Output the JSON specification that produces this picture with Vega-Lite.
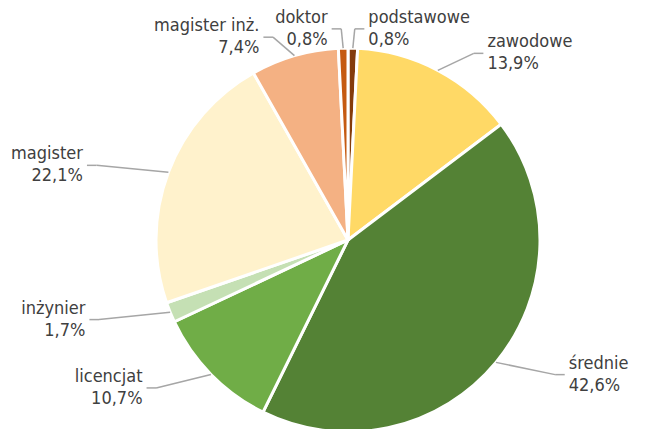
{
  "$schema": "https://vega.github.io/schema/vega-lite/v6.json",
  "width": 384,
  "height": 384,
  "autosize": {"type": "none"},
  "padding": {"left": 156, "top": 48, "right": 125, "bottom": 0},
  "background": "white",
  "config": {"view": {"stroke": null}},
  "data": {
    "values": [
      {"k": "podstawowe", "v": 0.8},
      {"k": "zawodowe", "v": 13.9},
      {"k": "średnie", "v": 42.6},
      {"k": "licencjat", "v": 10.7},
      {"k": "inżynier", "v": 1.7},
      {"k": "magister", "v": 22.1},
      {"k": "magister inż.", "v": 7.4},
      {"k": "doktor", "v": 0.8}
    ]
  },
  "transform": [
    {"window": [{"op": "row_number", "as": "i"}, {"op": "sum", "field": "v", "as": "cum"}], "frame": [null, 0]},
    {"joinaggregate": [{"op": "sum", "field": "v", "as": "tot"}]},
    {"calculate": "2*PI*(datum.cum - datum.v/2)/datum.tot", "as": "mid"},
    {"calculate": "sin(datum.mid) >= 0 ? 1 : -1", "as": "side"},
    {"calculate": "sin(datum.mid)", "as": "x0"},
    {"calculate": "cos(datum.mid)", "as": "y0"},
    {"calculate": "1.4*sin(datum.mid)", "as": "x1"},
    {"calculate": "1.1*cos(datum.mid)", "as": "y1"},
    {"calculate": "datum.x1 + datum.side*0.05", "as": "x2"},
    {"calculate": "[datum.k, replace(format(datum.v, '.1f'), '.', ',') + '%']", "as": "lab"}
  ],
  "layer": [
    {
      "mark": {"type": "arc", "stroke": "white", "strokeWidth": 3},
      "encoding": {
        "theta": {"field": "v", "type": "quantitative", "stack": true},
        "order": {"field": "i", "type": "quantitative"},
        "color": {
          "field": "k",
          "type": "nominal",
          "legend": null,
          "scale": {
            "domain": ["podstawowe", "zawodowe", "średnie", "licencjat", "inżynier", "magister", "magister inż.", "doktor"],
            "range": ["#843C0C", "#FFD966", "#548235", "#70AD47", "#C5E0B4", "#FFF2CC", "#F4B183", "#C55A11"]
          }
        }
      }
    },
    {
      "mark": {"type": "rule", "color": "#A6A6A6", "strokeWidth": 1.5},
      "encoding": {
        "x": {"field": "x0", "type": "quantitative", "axis": null, "scale": {"domain": [-1, 1], "nice": false, "zero": false}},
        "y": {"field": "y0", "type": "quantitative", "axis": null, "scale": {"domain": [-1, 1], "nice": false, "zero": false}},
        "x2": {"field": "x1"},
        "y2": {"field": "y1"}
      }
    },
    {
      "mark": {"type": "rule", "color": "#A6A6A6", "strokeWidth": 1.5},
      "encoding": {
        "x": {"field": "x1", "type": "quantitative"},
        "y": {"field": "y1", "type": "quantitative"},
        "x2": {"field": "x2"}
      }
    },
    {
      "transform": [{"filter": "datum.side > 0"}],
      "mark": {"type": "text", "align": "left", "baseline": "middle", "dx": 4, "dy": -11, "fontSize": 18, "lineHeight": 22, "font": "DejaVu Sans Condensed, Roboto, sans-serif", "color": "#404040"},
      "encoding": {
        "x": {"field": "x2", "type": "quantitative"},
        "y": {"field": "y1", "type": "quantitative"},
        "text": {"field": "lab"}
      }
    },
    {
      "transform": [{"filter": "datum.side < 0"}],
      "mark": {"type": "text", "align": "right", "baseline": "middle", "dx": -4, "dy": -11, "fontSize": 18, "lineHeight": 22, "font": "DejaVu Sans Condensed, Roboto, sans-serif", "color": "#404040"},
      "encoding": {
        "x": {"field": "x2", "type": "quantitative"},
        "y": {"field": "y1", "type": "quantitative"},
        "text": {"field": "lab"}
      }
    }
  ]
}
